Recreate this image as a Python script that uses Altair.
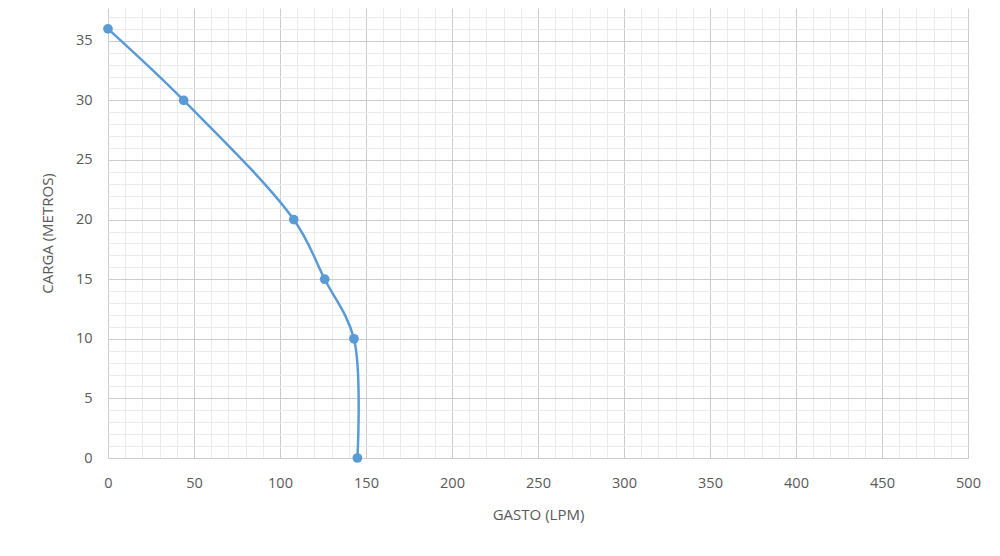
import altair as alt
import pandas as pd

gasto = [0, 44, 108, 126, 143, 145]
carga = [36, 30, 20, 15, 10, 0]
order = [0, 1, 2, 3, 4, 5]

x_ticks = list(range(0, 501, 10))
y_ticks = list(range(0, 38, 1))

df = pd.DataFrame({"gasto": gasto, "carga": carga, "orden": order})

FONT = "Open Sans"
GRAY = "#595959"

x_enc = alt.X(
    "gasto:Q",
    scale=alt.Scale(domain=[0, 500], nice=False, zero=False),
    axis=alt.Axis(
        values=x_ticks,
        title="GASTO (LPM)",
        labelExpr="datum.value % 50 === 0 ? datum.label : ''",
        gridColor={"condition": {"test": "datum.value % 50 === 0", "value": "#cccccc"}, "value": "#ebebeb"},
        ticks=False,
        domain=False,
        labelFlush=False,
        labelPadding=18,
        titlePadding=18,
    ),
)
y_enc = alt.Y(
    "carga:Q",
    scale=alt.Scale(domain=[0, 37.75], nice=False, zero=False),
    axis=alt.Axis(
        values=y_ticks,
        title="CARGA (METROS)",
        labelExpr="datum.value % 5 === 0 ? datum.label : ''",
        gridColor={"condition": {"test": "datum.value % 5 === 0", "value": "#cccccc"}, "value": "#ebebeb"},
        ticks=False,
        domain=False,
        labelFlush=False,
        labelPadding=16,
        titlePadding=20,
    ),
)

base = alt.Chart(df).encode(x=x_enc, y=y_enc, order=alt.Order("orden:Q"))
line = base.mark_line(color="#5B9BD5", strokeWidth=2.5, interpolate="catmull-rom")
pts = base.mark_point(filled=True, color="#5B9BD5", size=95, opacity=1)

chart = (
    alt.layer(line, pts)
    .properties(width=860, height=450, padding={"left": 100, "top": 0, "right": 24, "bottom": 86},
                autosize=alt.AutoSizeParams(type="none"))
    .configure_view(stroke=None)
    .configure_axis(
        labelFont=FONT, titleFont=FONT, labelColor=GRAY, titleColor=GRAY,
        labelFontSize=14.5, titleFontSize=15, titleFontWeight="normal", gridWidth=1,
    )
)
chart.save("out.html", embed_options={"renderer": "svg", "actions": False})
